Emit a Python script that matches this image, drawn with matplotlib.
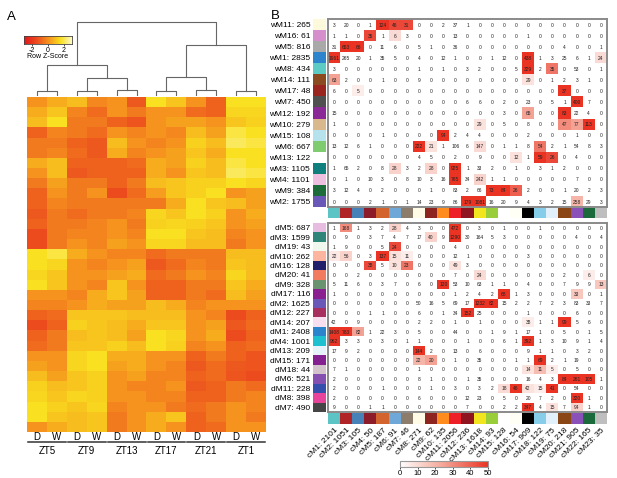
import numpy as np
import matplotlib
matplotlib.use('Agg')
import matplotlib.pyplot as plt
from matplotlib.colors import LinearSegmentedColormap, Normalize, to_rgba
from matplotlib.cm import ScalarMappable

plt.rcParams['font.family'] = ['Liberation Sans', 'DejaVu Sans']

# ---------------- panel A data ----------------
zt_groups = ['ZT5', 'ZT9', 'ZT13', 'ZT17', 'ZT21', 'ZT1']
conditions = ['D', 'W']

# row z-scores, read as bands from top to bottom (12 columns: D/W per ZT)
heat_rows = [
    [0, 0.5, 0.8, -0.2, 0, -1.2, 1.5, 1, 0, -1, 1.5, 1.5],
    [0.5, 1, -0.3, -0.8, 0, -0.5, 0, 0, -0.8, -1, 1.3, 1.3],
    [0.8, 1.5, -0.5, -0.5, -1, -1.3, 0, 0.3, 0.3, 0, 1, 1.2],
    [-1, -0.3, -0.5, -0.8, 0, -0.3, 0, -0.2, 0.8, 0.3, 1.8, 1.5],
    [-0.5, -0.5, -1, -1.2, 0.8, 0, -0.3, 0, 1.2, 0.8, 2, 1.8],
    [-0.5, -0.3, -0.8, -1.2, 0.5, -0.3, 0, 0.3, 1, 0.5, 1.5, 1.5],
    [0.5, 0.8, -1, -1, -1, -0.8, 0.5, 0.3, 1.2, 0.8, 1.8, 1.5],
    [0, 0.8, -1.2, -1, -1, -1, 0.5, 0, 1, 0.8, 2, 1.8],
    [-0.5, 0.3, -0.5, -0.5, -1, -0.5, 0.8, 1, 1.2, 1.2, 1.5, 1.3],
    [-1, 0, -0.5, 0, -1.5, -0.8, 0.2, 1, 1.2, 1.5, 0, 0.3],
    [-1, -0.3, -0.5, -0.5, -0.5, -0.5, -0.5, 0.5, 1.5, 1, 0.8, 0.3],
    [-1.2, -0.5, -0.8, -0.5, -0.5, -0.3, 1.3, 1, 1.5, 1.2, 0, 0.5],
    [-1, -0.5, -0.5, -0.3, 0, -0.5, 1.2, 1.3, 1.2, 1, 0, 0.3],
    [-1.5, -0.5, -0.3, -0.3, 0, -0.3, 1.5, 1.5, 1, 0.8, -0.3, 0],
    [-1.5, -0.5, 0, -0.3, 0.3, 0, 1.3, 1.3, 0.8, 0.8, -0.5, 0],
    [1.5, 1.8, 0.5, 0, -0.3, -0.3, -0.8, -0.5, -0.5, -0.5, 0.8, 0.8],
    [1.5, 1.3, 0, -0.3, 0, 0.3, -1.2, -0.8, -0.3, -0.5, 1, 0.8],
    [1.3, 1, 0, 0, 0.3, 0.5, -0.8, -0.5, 0, -0.3, 1.3, 0.8],
    [1.5, 1, 0, -0.3, 1, 0, -1, -1, -0.5, -0.5, 1, 0.5],
    [0, 0, -0.3, 0.5, 1, 0.3, -1, -1, -0.5, -0.8, 0.8, 0.3],
    [-0.3, -0.3, 0, 0.5, 0.3, 0.3, 0.8, 0.5, -0.3, 0, 0, 0],
    [-1, -0.8, 1, 1, 1, 0.8, 0.8, 0.8, 0, -0.3, -1.5, -1],
    [-1.5, -1, 1.2, 1, 0.8, 0.5, 1, 1, 0, 0.3, -1.2, -0.8],
    [-1, -0.5, 0.8, 1, 0.8, 0.3, 1.5, 1.3, 0, 0.5, -1.5, -1],
    [-0.8, -0.5, 1, 1, 1.2, 0.8, 1.5, 1.2, -0.3, 0, -1, -0.8],
    [0, 0, 1.3, 1.5, 0.5, 0.5, 0, 0, -1, -0.5, -1, -1.3],
    [0.3, 0, 1.3, 1.5, 0.3, 0.5, 0, -0.3, -1.2, -0.8, -1.2, -1.3],
    [0.8, 0.3, 1, 1.2, 0, 0.3, -0.3, -0.3, -1, -0.8, -1.3, -1.5],
    [1.2, 0.8, 1, 1.2, 0, -0.3, -0.3, 0, -1.2, -1, -0.5, -0.8],
    [1.3, 1, 1.3, 1.2, 0, 0, -0.3, -0.3, -1, -1, -0.5, -0.3],
    [1.5, 1.2, 1, 1.3, -0.3, 0, 0, -0.5, -0.8, -0.5, 0, -0.3],
    [1.5, 1, 0.8, 1, -0.5, 0, 0.5, 1, -1, -0.5, 0, -0.5],
    [0, 0.5, 0.8, 1, -0.5, 0, 0.5, 0, -1, -0.8, 0, 0],
]

# column dendrogram: (left node, right node, height); leaves are 0..11
merges = [
    (0, 1, 0.45), (2, 3, 0.45), (4, 5, 0.5), (6, 7, 0.4), (8, 9, 0.5), (10, 11, 0.4),
    (13, 14, 1.7), (12, 18, 3.0), (15, 16, 1.8), (20, 17, 5.0), (19, 21, 7.3),
]

# ---------------- panel B data ----------------
w_labels = ['wM11: 265', 'wM16: 61', 'wM5: 816', 'wM1: 2835', 'wM8: 434', 'wM14: 111',
            'wM17: 48', 'wM7: 450', 'wM12: 192', 'wM10: 279', 'wM15: 108', 'wM6: 667',
            'wM13: 122', 'wM3: 1105', 'wM4: 1101', 'wM9: 384', 'wM2: 1755']
w_colors = ['#fdfadb', '#d58fcc', '#a9a9a9', '#2b84cc', '#5ccbc4', '#8b4a20',
            '#9a2420', '#505050', '#8b2a96', '#dab88e', '#b5e2ec', '#7fcc70',
            '#ffffff', '#0e7f7c', '#efbfdf', '#1c6b3a', '#6a58b8']

d_labels = ['dM5: 687', 'dM3: 1599', 'dM19: 43', 'dM10: 262', 'dM16: 128', 'dM20: 41',
            'dM9: 328', 'dM17: 116', 'dM2: 1625', 'dM12: 227', 'dM14: 207', 'dM1: 2408',
            'dM4: 1001', 'dM13: 209', 'dM15: 171', 'dM18: 44', 'dM6: 521', 'dM11: 228',
            'dM8: 398', 'dM7: 490']
d_colors = ['#e6bde0', '#2e8578', '#f0f8ee', '#fdb5a0', '#211f6a', '#f27a5e',
            '#6a9470', '#8a2090', '#6a58b8', '#a8305e', '#f8dff0', '#2b84cc',
            '#1ec0cf', '#e6f2fa', '#84208f', '#d3c4cc', '#8550b0', '#3450ac',
            '#e8449c', '#454545']

c_labels = ['cM1: 2101', 'cM2: 1051', 'cM3: 105', 'cM4: 50', 'cM5: 187', 'cM6: 91',
            'cM7: 46', 'cM8: 271', 'cM9: 62', 'cM10: 135', 'cM11: 2056', 'cM12: 236',
            'cM13: 1618', 'cM14: 93', 'cM15: 128', 'cM16: 54', 'cM17: 909', 'cM18: 122',
            'cM19: 75', 'cM20: 218', 'cM21: 905', 'cM22: 165', 'cM23: 35']
c_colors = ['#5cc4c4', '#b02428', '#4682b8', '#8c1c2a', '#d4642e', '#6ea8d8',
            '#8c7c6c', '#fffbe6', '#8e2420', '#ff8c1c', '#ec2026', '#8e1420',
            '#f2e41e', '#9acd3a', '#ffffff', '#fffff6', '#000000', '#86cdea',
            '#e2f0fc', '#8b4616', '#8a52b8', '#1a6a3c', '#bebebe']

top_counts = [
    [3, 20, 0, 1, 124, 46, 31, 0, 0, 2, 37, 1, 0, 0, 0, 0, 0, 0, 0, 0, 0, 0, 0],
    [1, 1, 0, 35, 1, 6, 3, 0, 0, 0, 13, 0, 0, 0, 0, 0, 1, 0, 0, 0, 0, 0, 0],
    [31, 653, 66, 0, 11, 6, 0, 5, 1, 0, 36, 0, 0, 0, 0, 0, 0, 0, 0, 4, 0, 0, 1],
    [1961, 265, 20, 1, 35, 5, 0, 4, 0, 12, 1, 0, 0, 1, 12, 0, 438, 1, 3, 25, 6, 1, 24],
    [3, 0, 0, 0, 0, 0, 0, 1, 0, 1, 0, 3, 2, 0, 0, 5, 329, 2, 35, 0, 53, 0, 1],
    [63, 2, 0, 0, 1, 0, 0, 9, 0, 0, 0, 0, 0, 0, 0, 0, 29, 0, 1, 2, 3, 1, 0],
    [6, 0, 5, 0, 0, 0, 0, 0, 0, 0, 0, 0, 0, 0, 0, 0, 0, 0, 0, 37, 0, 0, 0],
    [0, 0, 0, 0, 0, 0, 0, 0, 0, 0, 0, 6, 6, 0, 2, 0, 23, 0, 5, 1, 400, 7, 0],
    [15, 0, 0, 0, 0, 0, 0, 0, 0, 0, 0, 0, 0, 0, 3, 0, 65, 0, 0, 83, 22, 4, 0],
    [1, 0, 0, 0, 0, 0, 0, 0, 0, 0, 0, 0, 29, 0, 5, 0, 8, 0, 0, 47, 77, 113, 0],
    [0, 0, 0, 0, 1, 0, 0, 0, 0, 94, 2, 4, 4, 0, 0, 0, 2, 0, 0, 0, 1, 0, 0],
    [13, 12, 6, 1, 0, 0, 0, 222, 21, 1, 106, 6, 147, 0, 1, 1, 8, 54, 2, 1, 54, 8, 3],
    [0, 0, 0, 0, 0, 0, 0, 4, 5, 0, 2, 0, 9, 0, 0, 12, 1, 59, 26, 0, 4, 0, 0],
    [1, 65, 2, 0, 8, 28, 3, 2, 28, 0, 925, 1, 33, 2, 0, 1, 0, 3, 1, 2, 0, 0, 0],
    [0, 1, 0, 10, 3, 0, 8, 10, 3, 16, 765, 34, 242, 1, 1, 0, 0, 0, 0, 0, 7, 0, 0],
    [3, 12, 4, 0, 2, 0, 0, 0, 1, 0, 83, 2, 66, 73, 84, 26, 2, 0, 0, 1, 20, 2, 3],
    [0, 0, 0, 2, 1, 0, 1, 14, 23, 9, 86, 179, 1081, 16, 20, 9, 4, 3, 2, 15, 258, 29, 3],
]

bottom_counts = [
    [1, 168, 1, 3, 2, 28, 4, 3, 0, 0, 472, 0, 3, 0, 1, 0, 0, 1, 0, 0, 0, 0, 0],
    [0, 9, 0, 3, 7, 4, 7, 17, 40, 9, 1290, 30, 164, 5, 3, 0, 0, 0, 0, 0, 4, 0, 4],
    [1, 9, 0, 0, 5, 24, 0, 0, 0, 0, 4, 0, 0, 0, 0, 0, 0, 0, 0, 0, 0, 0, 0],
    [22, 56, 0, 3, 137, 15, 11, 0, 0, 0, 12, 1, 0, 0, 0, 0, 3, 0, 0, 0, 0, 0, 0],
    [0, 0, 0, 38, 5, 10, 23, 0, 0, 0, 49, 3, 0, 0, 0, 0, 0, 0, 0, 0, 0, 0, 0],
    [0, 0, 2, 0, 0, 0, 0, 0, 0, 0, 7, 0, 24, 0, 0, 0, 0, 0, 0, 2, 0, 6, 0],
    [5, 11, 6, 0, 3, 7, 0, 6, 0, 120, 53, 10, 63, 1, 1, 0, 4, 0, 0, 7, 9, 9, 13],
    [1, 0, 0, 0, 0, 0, 0, 0, 0, 0, 1, 2, 4, 2, 68, 1, 3, 0, 0, 0, 33, 0, 1],
    [0, 0, 0, 0, 0, 0, 0, 50, 16, 5, 69, 17, 1232, 82, 15, 2, 2, 7, 2, 3, 83, 33, 7],
    [0, 0, 0, 1, 1, 0, 0, 6, 0, 1, 34, 152, 25, 0, 0, 0, 1, 0, 0, 0, 6, 0, 0],
    [42, 0, 9, 0, 0, 0, 0, 2, 2, 0, 1, 0, 1, 0, 0, 0, 38, 1, 1, 99, 5, 6, 0],
    [1408, 783, 82, 1, 22, 3, 0, 5, 0, 0, 44, 0, 0, 1, 9, 1, 17, 1, 0, 5, 0, 1, 5],
    [962, 3, 3, 0, 3, 0, 1, 1, 0, 0, 0, 1, 0, 0, 6, 1, 392, 1, 3, 10, 9, 1, 4],
    [17, 9, 2, 0, 0, 0, 0, 144, 2, 0, 13, 0, 6, 0, 0, 0, 9, 1, 1, 0, 3, 2, 0],
    [0, 0, 0, 0, 0, 0, 0, 22, 20, 0, 1, 0, 35, 0, 0, 1, 1, 69, 2, 1, 19, 0, 0],
    [7, 1, 0, 0, 0, 0, 0, 1, 0, 0, 0, 0, 0, 0, 0, 0, 14, 11, 5, 0, 5, 0, 0],
    [2, 0, 0, 0, 0, 0, 0, 8, 1, 0, 0, 1, 35, 0, 0, 0, 16, 4, 3, 84, 261, 105, 1],
    [2, 0, 0, 0, 1, 0, 0, 0, 1, 0, 3, 0, 3, 2, 18, 46, 42, 15, 41, 0, 54, 0, 0],
    [2, 0, 0, 0, 0, 0, 0, 6, 0, 0, 0, 12, 23, 0, 5, 0, 20, 7, 2, 0, 320, 1, 0],
    [9, 0, 0, 1, 1, 0, 0, 0, 0, 0, 0, 7, 0, 0, 2, 2, 347, 4, 15, 7, 94, 1, 0],
]

# enrichment scores of shaded cells (row, col, score), everything else 0
top_hits = [
    (0, 4, 50), (0, 5, 45), (0, 6, 45), (1, 3, 45), (1, 5, 10), (2, 1, 50), (2, 2, 50),
    (3, 0, 50), (3, 16, 50), (3, 22, 10), (4, 16, 50), (4, 18, 35), (5, 0, 25), (5, 16, 8),
    (6, 2, 5), (6, 19, 50), (7, 20, 50), (8, 16, 25), (8, 19, 50), (9, 12, 8), (9, 19, 30),
    (9, 20, 25), (9, 21, 50), (10, 9, 50), (11, 7, 50), (11, 8, 8), (11, 12, 10), (11, 17, 35),
    (12, 15, 8), (12, 17, 50), (12, 18, 45), (13, 5, 12), (13, 8, 12), (13, 10, 50),
    (14, 10, 50), (14, 12, 12), (15, 13, 50), (15, 14, 50), (15, 15, 40),
    (16, 11, 50), (16, 12, 50), (16, 20, 20),
]
bottom_hits = [
    (0, 1, 30), (0, 5, 12), (0, 10, 50), (1, 8, 12), (1, 10, 50), (2, 5, 45),
    (3, 0, 6), (3, 1, 12), (3, 4, 50), (3, 5, 8), (3, 6, 5), (4, 3, 45), (4, 5, 8),
    (4, 6, 35), (4, 10, 8), (5, 12, 10), (5, 21, 5), (6, 9, 50), (6, 22, 15),
    (7, 14, 50), (7, 20, 15), (8, 12, 50), (8, 13, 50), (9, 11, 50), (10, 16, 5),
    (10, 19, 50), (11, 0, 50), (11, 1, 50), (11, 2, 25), (12, 0, 50), (12, 16, 50),
    (13, 7, 50), (14, 7, 20), (14, 8, 25), (14, 17, 50), (15, 16, 8), (15, 17, 18),
    (15, 18, 5), (16, 19, 50), (16, 20, 50), (16, 21, 50), (17, 14, 10), (17, 15, 50),
    (17, 16, 8), (17, 17, 5), (17, 18, 50), (18, 20, 50), (19, 16, 50), (19, 18, 8),
    (19, 20, 12),
]

# ---------------- figure ----------------
W, H = 617, 478
fig = plt.figure(figsize=(W / 100, H / 100), dpi=100)


def box(x0, y0, x1, y1):
    """pixel box with top-left origin -> figure fraction rect"""
    return [x0 / W, 1 - y1 / H, (x1 - x0) / W, (y1 - y0) / H]


def fx(x):
    return x / W


def fy(y):
    return 1 - y / H


heat_cmap = LinearSegmentedColormap.from_list(
    'heat', [(0.0, '#e3171c'), (0.25, '#ec4b1f'), (0.5, '#f6921e'),
             (0.75, '#f9e01f'), (1.0, '#fffbd6')])
score_cmap = LinearSegmentedColormap.from_list('score', ['#ffffff', '#f4a394', '#ea3323'])

fig.text(fx(7), fy(17), 'A', fontsize=9.5, va='center')
fig.text(fx(271), fy(16), 'B', fontsize=9.5, va='center')

# ---- panel A heatmap ----
n_cols = len(zt_groups) * len(conditions)
ax_hm = fig.add_axes(box(27, 97, 266, 432))
ax_hm.imshow(np.array(heat_rows), cmap=heat_cmap, vmin=-3, vmax=3, aspect='auto',
             interpolation='nearest', extent=(0, n_cols, len(heat_rows), 0))
ax_hm.set_axis_off()

for i in range(n_cols):
    fig.text(fx(27 + (i + 0.5) * 239 / n_cols), fy(437), conditions[i % 2],
             ha='center', va='center', fontsize=7)
for g, name in enumerate(zt_groups):
    x0 = 27 + g * 2 * 239 / n_cols
    x1 = x0 + 2 * 239 / n_cols
    fig.add_artist(plt.Line2D([fx(x0 + 1), fx(x1 - 1)], [fy(442), fy(442)],
                              color='#333333', lw=1.1))
    fig.text(fx((x0 + x1) / 2), fy(451), name, ha='center', va='center', fontsize=7)

# ---- column dendrogram ----
ax_dn = fig.add_axes(box(27, 20, 266, 96))
node_x = {i: i + 0.5 for i in range(n_cols)}
node_h = {i: 0.0 for i in range(n_cols)}
for k, (a, b, h) in enumerate(merges):
    nid = n_cols + k
    ax_dn.plot([node_x[a], node_x[a], node_x[b], node_x[b]],
               [node_h[a], h, h, node_h[b]], color='#666666', lw=0.8)
    node_x[nid] = (node_x[a] + node_x[b]) / 2
    node_h[nid] = h
ax_dn.set_xlim(0, n_cols)
ax_dn.set_ylim(-0.1, 7.5)
ax_dn.set_axis_off()

# ---- color key ----
ax_key = fig.add_axes(box(24, 36, 72, 44))
ax_key.imshow(np.linspace(-3, 3, 100)[None, :], cmap=heat_cmap, vmin=-3, vmax=3,
              aspect='auto', extent=(-3, 3, 0, 1))
ax_key.set_xticks([-2, 0, 2])
ax_key.set_xticklabels(['-2', '0', '2'], fontsize=5)
ax_key.tick_params(axis='x', length=1.5, width=0.5, pad=0.5)
ax_key.set_yticks([])
for s in ax_key.spines.values():
    s.set_linewidth(0.6)
    s.set_color('#444444')
fig.text(fx(48), fy(56), 'Row Z-Score', ha='center', va='center', fontsize=5)


# ---- panel B matrices ----
def draw_matrix(counts, hits, labels, row_colors, y0, y1):
    counts = np.array(counts)
    nr, nc = counts.shape
    scores = np.zeros((nr, nc))
    for r, c, s in hits:
        scores[r, c] = s
    ax = fig.add_axes(box(328, y0, 607, y1))
    ax.imshow(scores, cmap=score_cmap, vmin=0, vmax=50, aspect='auto',
              interpolation='nearest', extent=(0, nc, nr, 0))
    for r in range(nr):
        for c in range(nc):
            ax.text(c + 0.5, r + 0.55, str(counts[r, c]), ha='center', va='center',
                    fontsize=3.5, color='#222222')
    ax.set_xticks([])
    ax.set_yticks([])
    for s in ax.spines.values():
        s.set_linewidth(1.4)
        s.set_color('#8a8a8a')

    ax_sw = fig.add_axes(box(313, y0, 326, y1))
    ax_sw.imshow(np.array([[to_rgba(c)] for c in row_colors]), aspect='auto',
                 interpolation='nearest', extent=(0, 1, nr, 0))
    ax_sw.set_xticks([])
    ax_sw.set_yticks(np.arange(nr) + 0.5)
    ax_sw.set_yticklabels(labels, fontsize=6)
    ax_sw.tick_params(axis='y', length=0, pad=2)
    for s in ax_sw.spines.values():
        s.set_visible(False)
    return ax


def draw_col_bar(y0, y1, with_labels):
    ax = fig.add_axes(box(328, y0, 607, y1))
    ax.imshow(np.array([[to_rgba(c) for c in c_colors]]), aspect='auto',
              interpolation='nearest', extent=(0, len(c_colors), 1, 0))
    ax.set_yticks([])
    if with_labels:
        ax.set_xticks(np.arange(len(c_labels)) + 0.5)
        ax.set_xticklabels(c_labels, fontsize=6, rotation=45, ha='right',
                           rotation_mode='anchor')
        ax.tick_params(axis='x', length=0, pad=2)
    else:
        ax.set_xticks([])
    for s in ax.spines.values():
        s.set_visible(False)
    return ax


draw_matrix(top_counts, top_hits, w_labels, w_colors, 19, 207)
draw_col_bar(208, 218, False)
draw_matrix(bottom_counts, bottom_hits, d_labels, d_colors, 223, 412)
draw_col_bar(413, 424, True)

# ---- score colorbar ----
ax_cb = fig.add_axes(box(400, 461, 488, 467))
cb = fig.colorbar(ScalarMappable(norm=Normalize(0, 50), cmap=score_cmap), cax=ax_cb,
                  orientation='horizontal', ticks=[0, 10, 20, 30, 40, 50])
cb.ax.tick_params(labelsize=5.5, length=1.5, width=0.5, pad=1)
cb.outline.set_edgecolor('#999999')
cb.outline.set_linewidth(0.8)

fig.savefig('out.png', dpi=100)
